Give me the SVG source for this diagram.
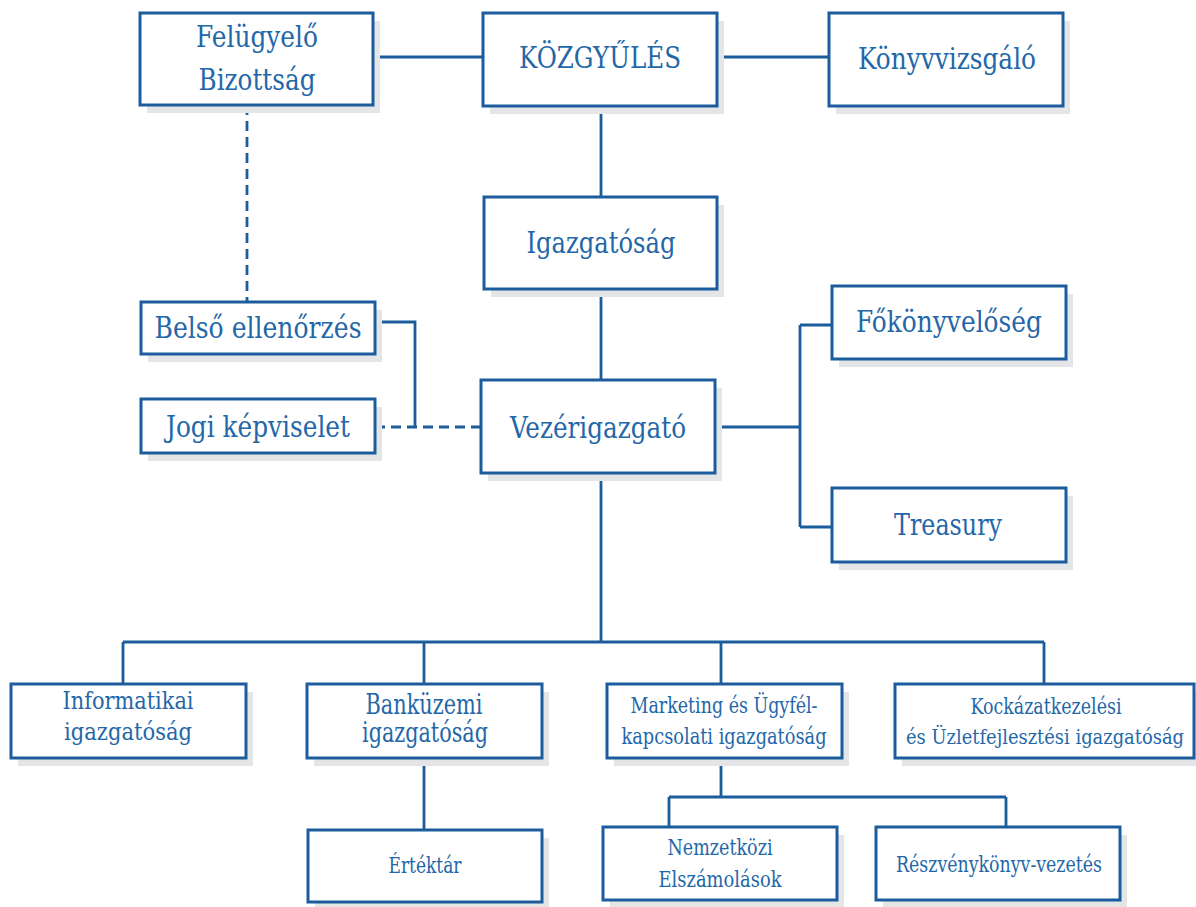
<svg xmlns="http://www.w3.org/2000/svg" width="1196" height="907" viewBox="0 0 1196 907">
<style>
.bg{fill:#ffffff}
.sh{fill:#e4e5e7}
.bx{fill:#ffffff;stroke:#1a5c9c;stroke-width:3}
.ln{fill:none;stroke:#1a5c9c;stroke-width:2.8}
.ds{fill:none;stroke:#1a5c9c;stroke-width:2.8;stroke-dasharray:10 6}
text{font-family:"DejaVu Serif Condensed","DejaVu Serif","Liberation Serif",serif;font-stretch:condensed;fill:#2467a8;text-anchor:middle}
.t30{font-size:30px}
.t27{font-size:27px}
.t24{font-size:24px}
.t22{font-size:22px}
.t20{font-size:20px}
</style>
<rect class="bg" x="0" y="0" width="1196" height="907"/>
<g id="connectors">
<path class="ln" d="M373,57 H483 M717,57 H829"/>
<path class="ln" d="M601,106 V197"/>
<path class="ln" d="M601,289 V380"/>
<path class="ds" d="M247,105 V302"/>
<path class="ln" d="M375,322 H415 V427"/>
<path class="ds" d="M375,427 H481"/>
<path class="ln" d="M715,427 H800 M800,325 V527 M800,325 H832 M800,527 H832"/>
<path class="ln" d="M601,473 V642 M123,642 H1044 M123,642 V684 M424,642 V684 M721,642 V684 M1044,642 V684"/>
<path class="ln" d="M424,758 V830"/>
<path class="ln" d="M721,758 V797 M669,797 H1006 M669,797 V827 M1006,797 V827"/>
</g>
<g id="felugyelo">
<rect class="sh" x="147" y="21" width="233" height="92"/>
<rect class="bx" x="140" y="13" width="233" height="92"/>
<text class="t30" x="257" y="47" textLength="122" lengthAdjust="spacingAndGlyphs">Felügyelő</text>
<text class="t30" x="257" y="90" textLength="117" lengthAdjust="spacingAndGlyphs">Bizottság</text>
</g>
<g id="kozgyules">
<rect class="sh" x="490" y="21" width="234" height="93"/>
<rect class="bx" x="483" y="13" width="234" height="93"/>
<text class="t30" x="600" y="68" textLength="162" lengthAdjust="spacingAndGlyphs">KÖZGYŰLÉS</text>
</g>
<g id="konyvvizsgalo">
<rect class="sh" x="836" y="21" width="234" height="93"/>
<rect class="bx" x="829" y="13" width="234" height="93"/>
<text class="t30" x="947" y="69" textLength="178" lengthAdjust="spacingAndGlyphs">Könyvvizsgáló</text>
</g>
<g id="igazgatosag">
<rect class="sh" x="491" y="205" width="233" height="92"/>
<rect class="bx" x="484" y="197" width="233" height="92"/>
<text class="t30" x="601" y="253" textLength="149" lengthAdjust="spacingAndGlyphs">Igazgatóság</text>
</g>
<g id="belso">
<rect class="sh" x="148" y="310" width="234" height="52"/>
<rect class="bx" x="141" y="302" width="234" height="52"/>
<text class="t30" x="258" y="338" textLength="207" lengthAdjust="spacingAndGlyphs">Belső ellenőrzés</text>
</g>
<g id="jogi">
<rect class="sh" x="148" y="407" width="234" height="54"/>
<rect class="bx" x="141" y="399" width="234" height="54"/>
<text class="t30" x="258" y="437" textLength="184" lengthAdjust="spacingAndGlyphs">Jogi képviselet</text>
</g>
<g id="vezerigazgato">
<rect class="sh" x="488" y="388" width="234" height="93"/>
<rect class="bx" x="481" y="380" width="234" height="93"/>
<text class="t30" x="598" y="438" textLength="176" lengthAdjust="spacingAndGlyphs">Vezérigazgató</text>
</g>
<g id="fokonyveloseg">
<rect class="sh" x="839" y="294" width="234" height="73"/>
<rect class="bx" x="832" y="286" width="234" height="73"/>
<text class="t30" x="949" y="332" textLength="186" lengthAdjust="spacingAndGlyphs">Főkönyvelőség</text>
</g>
<g id="treasury">
<rect class="sh" x="839" y="496" width="234" height="74"/>
<rect class="bx" x="832" y="488" width="234" height="74"/>
<text class="t30" x="948" y="535" textLength="108" lengthAdjust="spacingAndGlyphs">Treasury</text>
</g>
<g id="informatikai">
<rect class="sh" x="18" y="692" width="235" height="74"/>
<rect class="bx" x="11" y="684" width="235" height="74"/>
<text class="t24" x="128" y="709" textLength="131" lengthAdjust="spacingAndGlyphs">Informatikai</text>
<text class="t24" x="128" y="740" textLength="128" lengthAdjust="spacingAndGlyphs">igazgatóság</text>
</g>
<g id="bankuzemi">
<rect class="sh" x="314" y="692" width="235" height="74"/>
<rect class="bx" x="307" y="684" width="235" height="74"/>
<text class="t27" x="424" y="714" textLength="117" lengthAdjust="spacingAndGlyphs">Banküzemi</text>
<text class="t27" x="425" y="742" textLength="126" lengthAdjust="spacingAndGlyphs">igazgatóság</text>
</g>
<g id="marketing">
<rect class="sh" x="614" y="692" width="235" height="74"/>
<rect class="bx" x="607" y="684" width="235" height="74"/>
<text class="t22" x="724" y="713" textLength="187" lengthAdjust="spacingAndGlyphs">Marketing és Ügyfél-</text>
<text class="t22" x="724" y="744" textLength="205" lengthAdjust="spacingAndGlyphs">kapcsolati igazgatóság</text>
</g>
<g id="kockazat">
<rect class="sh" x="902" y="692" width="294" height="74"/>
<rect class="bx" x="895" y="684" width="299" height="74"/>
<text class="t22" x="1046" y="714" textLength="151" lengthAdjust="spacingAndGlyphs">Kockázatkezelési</text>
<text class="t20" x="1045" y="744" textLength="278" lengthAdjust="spacingAndGlyphs">és Üzletfejlesztési igazgatóság</text>
</g>
<g id="ertektar">
<rect class="sh" x="315" y="838" width="234" height="72"/>
<rect class="bx" x="308" y="830" width="234" height="72"/>
<text class="t22" x="425" y="873" textLength="73" lengthAdjust="spacingAndGlyphs">Értéktár</text>
</g>
<g id="nemzetkozi">
<rect class="sh" x="610" y="835" width="234" height="73"/>
<rect class="bx" x="603" y="827" width="234" height="73"/>
<text class="t22" x="720" y="855" textLength="105" lengthAdjust="spacingAndGlyphs">Nemzetközi</text>
<text class="t22" x="720" y="887" textLength="123" lengthAdjust="spacingAndGlyphs">Elszámolások</text>
</g>
<g id="reszvenykonyv">
<rect class="sh" x="883" y="835" width="244" height="73"/>
<rect class="bx" x="876" y="827" width="244" height="73"/>
<text class="t22" x="999" y="872" textLength="206" lengthAdjust="spacingAndGlyphs">Részvénykönyv-vezetés</text>
</g>
</svg>
